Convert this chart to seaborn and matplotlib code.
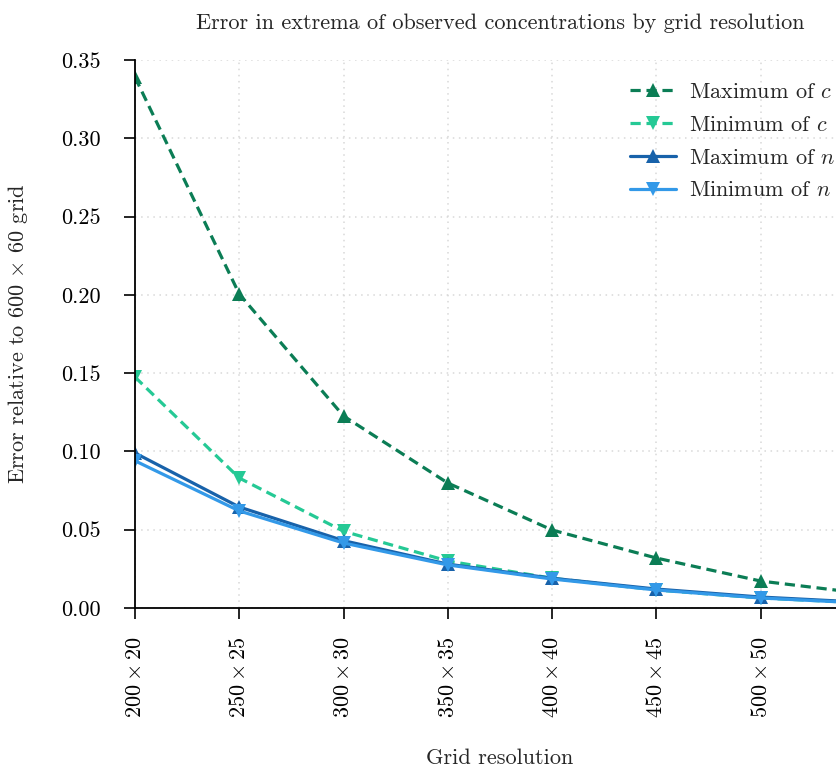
import matplotlib
matplotlib.use("Agg")
import matplotlib.pyplot as plt
import seaborn as sns
import pandas as pd

resolutions = ["200x20", "250x25", "300x30", "350x35", "400x40", "450x45", "500x50", "550x55"]
tick_labels = [r"$200\times20$", r"$250\times25$", r"$300\times30$", r"$350\times35$",
               r"$400\times40$", r"$450\times45$", r"$500\times50$", r"$550\times55$"]
max_c = [0.339, 0.2005, 0.1226, 0.0798, 0.0498, 0.0319, 0.0172, 0.0092]
min_c = [0.1475, 0.083, 0.049, 0.030, 0.019, 0.0115, 0.0064, 0.0032]
max_n = [0.099, 0.0645, 0.043, 0.028, 0.019, 0.0121, 0.0070, 0.0036]
min_n = [0.094, 0.062, 0.0415, 0.0275, 0.0185, 0.0115, 0.0064, 0.0031]
series_names = ["Maximum of $c$", "Minimum of $c$", "Maximum of $n$", "Minimum of $n$"]
colors = ["#0b7d55", "#25c995", "#1862aa", "#3399e8"]

sns.set_style("ticks")
plt.rcParams["font.family"] = ["serif"]
plt.rcParams["font.serif"] = ["cmr10", "DejaVu Serif"]
plt.rcParams["mathtext.fontset"] = "cm"
plt.rcParams["axes.unicode_minus"] = False
plt.rcParams["axes.formatter.use_mathtext"] = True

rows = []
for name, vals in zip(series_names, [max_c, min_c, max_n, min_n]):
    for i, v in enumerate(vals):
        rows.append({"idx": i, "value": v, "series": name})
df = pd.DataFrame(rows)

fig = plt.figure(figsize=(8.36, 7.65), dpi=100)
ax = fig.add_axes([135 / 836, 157 / 765, 730 / 836, 548 / 765])

palette = dict(zip(series_names, colors))
markers = dict(zip(series_names, ["^", "v", "^", "v"]))
dashes = dict(zip(series_names, [(3.2, 1.8), (3.2, 1.8), "", ""]))

sns.lineplot(data=df, x="idx", y="value", hue="series", style="series",
             palette=palette, markers=markers, dashes=dashes,
             linewidth=2.3, markersize=10, markeredgewidth=0, ax=ax)

FS = 16
ax.set_xlim(0, 7)
ax.set_ylim(0, 0.35)
ax.set_xticks(range(len(tick_labels)))
ax.set_xticklabels(tick_labels, rotation=90, fontsize=FS)
yt = [0.0, 0.05, 0.10, 0.15, 0.20, 0.25, 0.30, 0.35]
ax.set_yticks(yt)
ax.set_yticklabels([f"{v:.2f}" for v in yt], fontsize=FS)
ax.tick_params(axis="both", direction="out", length=8, width=1.2, colors="black")
ax.tick_params(axis="y", pad=17)
ax.tick_params(axis="x", pad=12.5)
ax.grid(True, linestyle=(0, (1, 3)), color="#d8d8d8", linewidth=1.1)
for s in ["top", "right"]:
    ax.spines[s].set_visible(False)
for s in ["left", "bottom"]:
    ax.spines[s].set_color("black")
    ax.spines[s].set_linewidth(1.3)

ax.set_xlabel("Grid resolution", fontsize=FS)
ax.xaxis.set_label_coords(0.5, (608 - 748) / 548)
ax.set_ylabel(r"Error relative to $600\,\times\,60$ grid", fontsize=FS, labelpad=22)
ax.set_title("Error in extrema of observed concentrations by grid resolution", fontsize=FS, pad=22)

leg = ax.legend(loc="upper right", bbox_to_anchor=(1.0, 1.0 + 8 / 548), frameon=False,
                fontsize=FS, handlelength=2.1, labelspacing=0.6, borderaxespad=0.96,
                handletextpad=0.55)

fig.savefig("out.png", dpi=100)
